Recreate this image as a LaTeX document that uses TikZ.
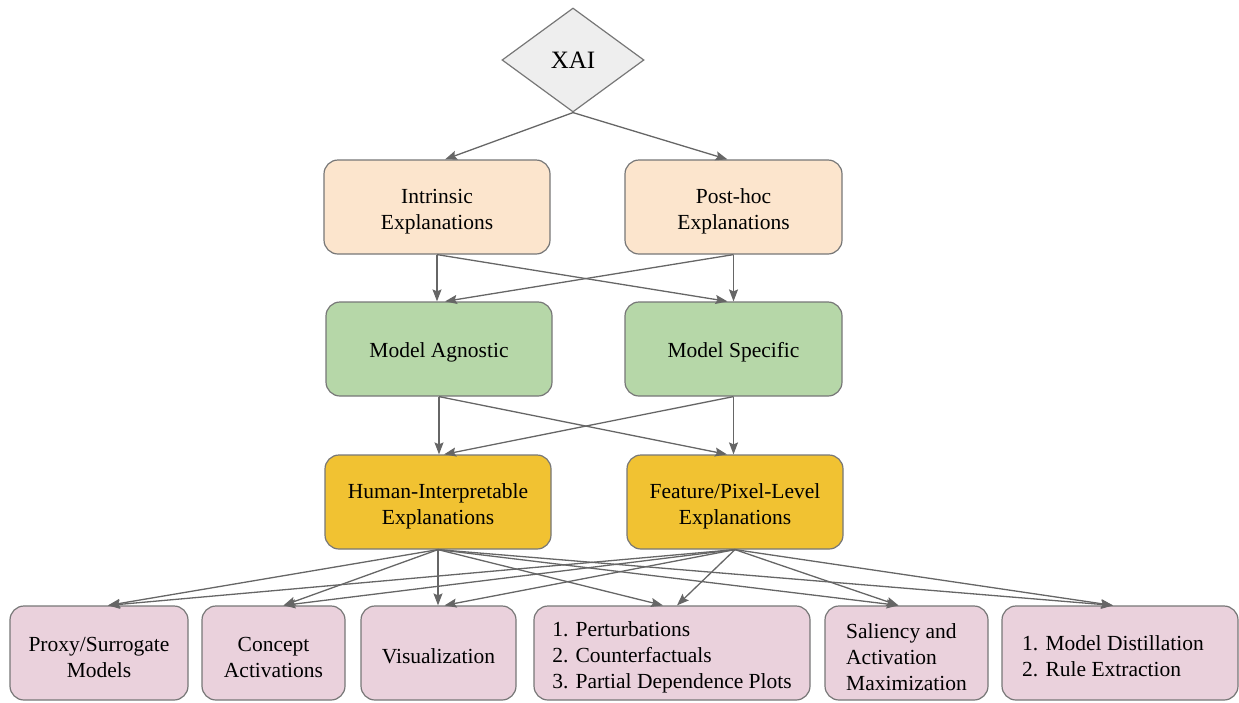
\documentclass[tikz,border=0pt]{standalone}
\usepackage{fontspec}
\setmainfont{Liberation Serif}
\usetikzlibrary{shapes.geometric,arrows.meta,calc}
\definecolor{edgegray}{HTML}{666666}
\definecolor{bordergray}{HTML}{777777}
\definecolor{xaifill}{HTML}{EEEEEE}
\definecolor{peach}{HTML}{FCE5CD}
\definecolor{sage}{HTML}{B6D7A8}
\definecolor{gold}{HTML}{F1C232}
\definecolor{rosy}{HTML}{EAD1DC}
% invisible strut that sets the first line a little lower in its box
\newcommand{\liftline}[1][24]{\rule{0pt}{#1pt}}
\begin{document}
\begin{tikzpicture}[x=1pt,y=-1pt,
  box/.style={draw=bordergray, line width=1.2pt, rounded corners=14pt,
    minimum height=94pt, inner sep=0pt, align=center,
    font=\fontsize{21.5}{26}\selectfont},
  leftbox/.style={box, align=left},
  link/.style={draw=edgegray, line width=1.3pt,
    -{Stealth[length=12pt,width=9pt,inset=2pt]}}
]
\useasboundingbox (0,0) rectangle (1239,702);

% root
\node[diamond, draw=bordergray, fill=xaifill, line width=1.2pt,
  minimum width=142pt, minimum height=104pt, inner sep=0pt,
  font=\fontsize{25}{30}\selectfont] (xai) at (573,60) {XAI};

% level 1: when the explanation is produced
\node[box, fill=peach, minimum width=226pt] (intr) at (437,207) {\liftline Intrinsic\\Explanations};
\node[box, fill=peach, minimum width=217pt] (post) at (733.5,207) {\liftline Post-hoc\\Explanations};

% level 2: dependence on the model
\node[box, fill=sage, minimum width=226pt] (agn) at (439,349) {\liftline[22]Model Agnostic};
\node[box, fill=sage, minimum width=217pt] (spec) at (733.5,349) {\liftline[22]Model Specific};

% level 3: form of the explanation
\node[box, fill=gold, minimum width=226pt] (hum) at (438,502) {\liftline Human-Interpretable\\Explanations};
\node[box, fill=gold, minimum width=216pt] (feat) at (735,502) {\liftline Feature/Pixel-Level\\Explanations};

% level 4: methods
\node[box, fill=rosy, minimum width=178pt] (proxy) at (99,653) {\liftline Proxy/Surrogate\\Models};
\node[box, fill=rosy, minimum width=143pt] (concept) at (273.5,653) {\liftline Concept\\Activations};
\node[box, fill=rosy, minimum width=155pt] (vis) at (438.5,653) {\liftline[22]Visualization};
\node[leftbox, fill=rosy, minimum width=276pt] (pert) at (672,653)
  {\liftline 1. Perturbations\\2. Counterfactuals\\3. Partial Dependence Plots};
\node[leftbox, fill=rosy, minimum width=163pt] (sal) at (906.5,653)
  {\liftline Saliency and\\Activation\\Maximization};
\node[box, fill=rosy, minimum width=236pt] (dist) at (1120,653) {};
\node[align=left, inner sep=0pt, font=\fontsize{21.5}{26}\selectfont] (distlbl)
  at (1113,656) {1. Model Distillation\\2. Rule Extraction};

% root to level 1
\draw[link] (xai.south) -- ($(intr.north)+(8,0)$);
\draw[link] (xai.south) -- ($(post.north)+(-6,0)$);

% level 1 to level 2
\draw[link] (intr.south) -- (intr.south |- agn.north);
\draw[link] (intr.south) -- ($(spec.north)+(-6,0)$);
\draw[link] (post.south) -- (post.south |- spec.north);
\draw[link] (post.south) -- ($(agn.north)+(6,0)$);

% level 2 to level 3
\draw[link] (agn.south) -- (agn.south |- hum.north);
\draw[link] (agn.south) -- ($(feat.north)+(-8,0)$);
\draw[link] (spec.south) -- (spec.south |- feat.north);
\draw[link] (spec.south) -- ($(hum.north)+(6,0)$);

% level 3 to level 4
\draw[link] (hum.south) -- ($(proxy.north)+(9,0)$);
\draw[link] (hum.south) -- ($(concept.north)+(10,0)$);
\draw[link] (hum.south) -- (hum.south |- vis.north);
\draw[link] (hum.south) -- ($(pert.north)+(-9,0)$);
\draw[link] (hum.south) -- ($(sal.north)+(-8,0)$);
\draw[link] (hum.south) -- ($(dist.north)+(-7,0)$);

\draw[link] (feat.south) -- ($(proxy.north)+(9,0)$);
\draw[link] (feat.south) -- ($(concept.north)+(10,0)$);
\draw[link] (feat.south) -- ($(vis.north)+(6,0)$);
\draw[link] (feat.south) -- ($(pert.north)+(5,0)$);
\draw[link] (feat.south) -- ($(sal.north)+(-8,0)$);
\draw[link] (feat.south) -- ($(dist.north)+(-7,0)$);
\end{tikzpicture}
\end{document}
